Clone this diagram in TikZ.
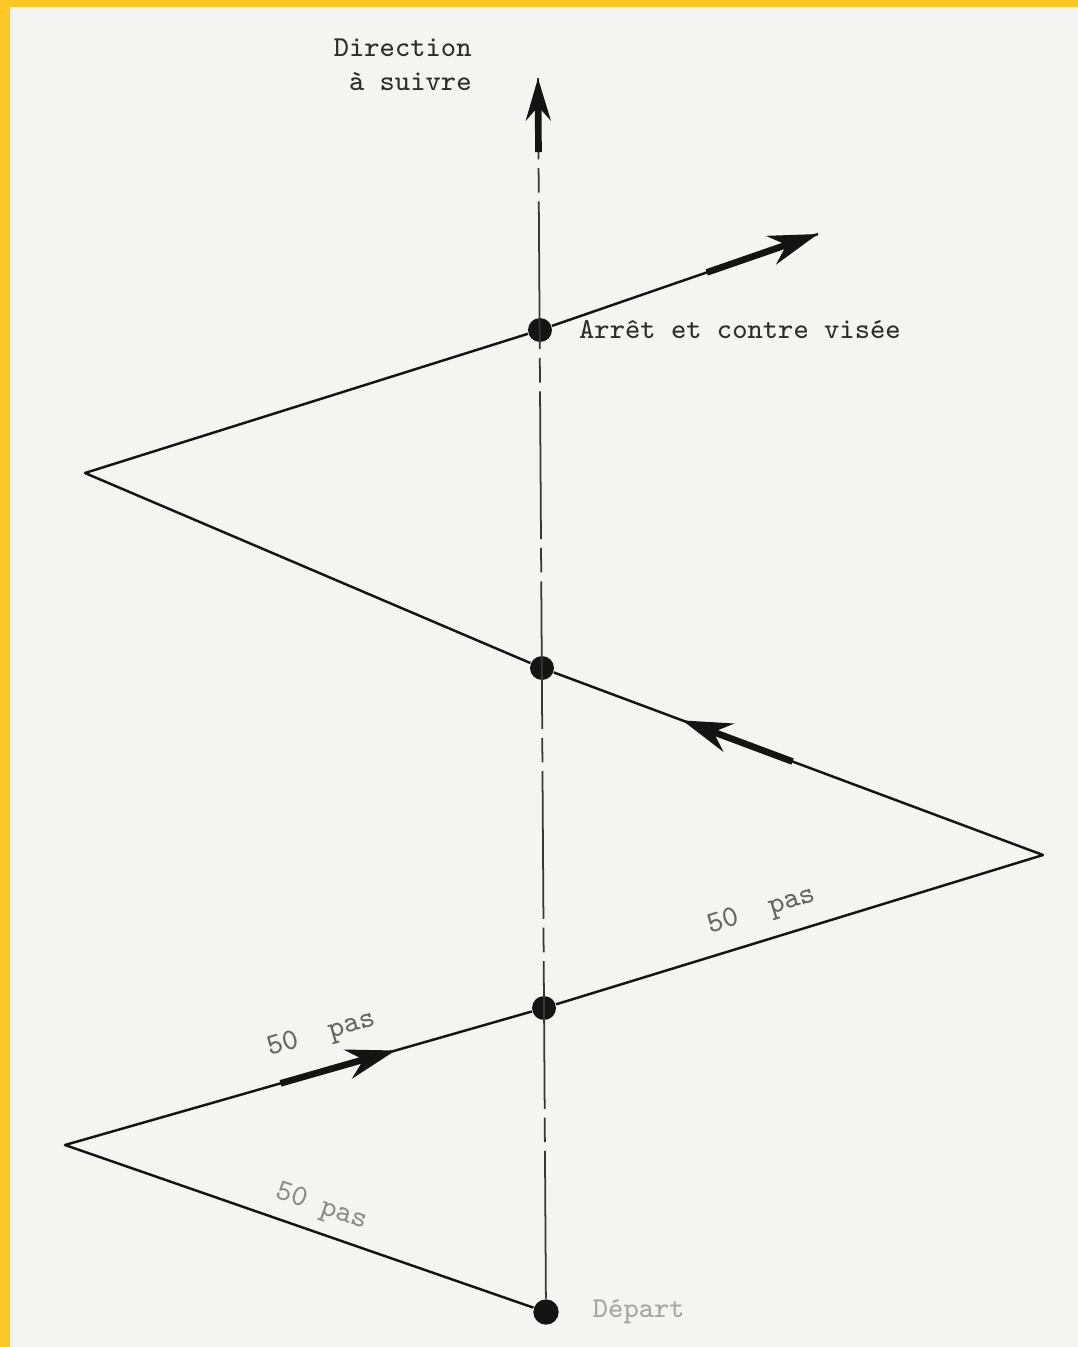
\documentclass[tikz,border=0pt]{standalone}
\usepackage{fontspec}
\usetikzlibrary{arrows.meta,calc,positioning}
\definecolor{fond}{RGB}{244,244,242}
\definecolor{cadre}{RGB}{253,200,38}
\definecolor{encre}{RGB}{20,20,20}
\definecolor{texte}{RGB}{45,45,45}
\tikzset{zigzag/.style={x=0.01cm,y=-0.01cm,font=\ttfamily\fontsize{8.2}{9.7}\selectfont},
  point/.style={circle,fill=encre,inner sep=0pt,minimum size=6.8pt},
  trait/.style={encre,line width=0.7pt,line join=round},
  axe/.style={encre!85,line width=0.5pt,dash pattern=on 42pt off 2.5pt on 7pt off 2.5pt},
  fleche/.style={encre,line width=1.9pt,-{Stealth[length=14pt,width=8.5pt]}},
  pas/.style={text=black!60,font=\ttfamily\fontsize{8.6}{10}\selectfont}}

\begin{document}
\begin{tikzpicture}[zigzag]
    \useasboundingbox (0,0) rectangle (1078,1347);
    \fill[fond]  (0,0) rectangle (1078,1347);
    \fill[cadre] (0,0) rectangle (10,1347);
    \fill[cadre] (0,0) rectangle (1078,7);
    \coordinate (haut) at (538,78);
    \coordinate (gauche1) at (65,1145);
    \coordinate (droite1) at (1043,855);
    \coordinate (gauche2) at (85,473);
    \coordinate (fin) at (818,234);
    \node[point,minimum size=7.2pt] (dep) at (546,1312) {};
    \node[point] (p1) at (544,1008) {};
    \node[point] (p2) at (542,668) {};
    \node[point] (p3) at (540,330) {};
    \draw[axe] (dep) -- (haut);
    \draw[fleche,-{Stealth[length=12pt,width=7pt]}] ($(dep)!0.94!(haut)$) -- (haut);
    \draw[trait] (dep) -- (gauche1) -- (p1) -- (droite1) -- (p2) -- (gauche2) -- (p3) -- (fin);
    \draw[fleche] ($(gauche1)!0.45!(p1)$) -- ($(gauche1)!0.69!(p1)$);
    \draw[fleche] ($(droite1)!0.5!(p2)$) -- ($(droite1)!0.72!(p2)$);
    \draw[fleche] ($(p3)!0.6!(fin)$) -- (fin);
    \path (gauche1) -- (p1) node[pas,pos=0.57,sloped,above=3pt] {50~~pas};
    \path (p1) -- (droite1) node[pas,pos=0.44,sloped,above=1pt] {50~~pas};
    \path (gauche1) -- (dep) node[pas,text=black!45,pos=0.53,sloped,above=0pt] {50~pas};
    \node[text=texte,align=right,anchor=east] (direction) at (484,65) {Direction\\à suivre};
    \node[text=texte,right=4pt of p3] (arret) {Arrêt et contre visée};
    \node[text=black!35,right=6pt of dep] (depart) {Départ};
\end{tikzpicture}
\end{document}
